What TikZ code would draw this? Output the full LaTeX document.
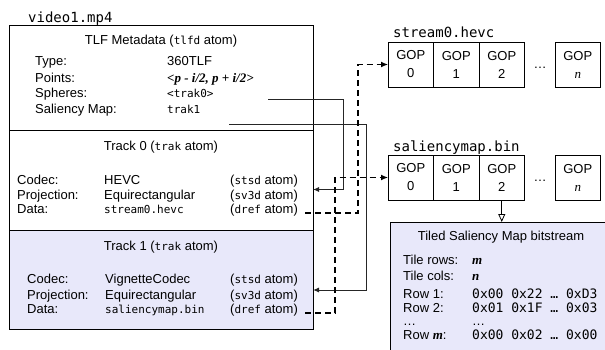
\documentclass[tikz,border=0pt]{standalone}
\usepackage{fontspec}
\setmainfont{Liberation Sans}
\setmonofont{DejaVu Sans Mono}
\newfontfamily\serifface{Liberation Serif}
\usetikzlibrary{arrows.meta}

\definecolor{lavender}{RGB}{232,232,250}
\colorlet{box edge}{black}
\colorlet{wire color}{black!85}
\newcommand\tcode[1]{{\ttfamily\fontsize{11}{13}\selectfont #1}}
\newcommand\hexrow[1]{{\ttfamily\fontsize{13}{15}\selectfont #1}}
\newcommand\bfvar[1]{{\serifface\bfseries\itshape #1}}

\tikzstyle{section} = [draw=box edge, line width=1pt, anchor=north west, minimum width=304pt, inner sep=0pt, outer sep=0pt]
\tikzstyle{txt} = [anchor=base west, inner sep=0pt, font=\fontsize{13}{15}\selectfont]
\tikzstyle{heading} = [txt, anchor=base]
\tikzstyle{filename} = [txt, font=\ttfamily\fontsize{14}{16}\selectfont]
\tikzstyle{gop} = [draw=box edge, line width=0.8pt, anchor=north west, minimum width=45.5pt, minimum height=45pt, inner sep=0pt, outer sep=0pt, align=center, font=\fontsize{13}{18}\selectfont]
\tikzstyle{wire} = [draw=wire color, line width=1pt, -{Latex[length=6pt,width=5pt]}]
\tikzstyle{data link} = [draw, line width=1.2pt, dash pattern=on 6pt off 4pt, -{Latex[length=7pt,width=6pt]}]

\begin{document}
\begin{tikzpicture}[x=1pt, y=-1pt]
    \path[use as bounding box, clip] (0,0) rectangle (605,350);

    % The file and its atoms
    \node[filename] (file) at (28,23) {video1.mp4};
    \node[section, minimum height=105pt] (meta) at (9,26) {};
    \node[section, minimum height=99pt] (track0) at (9,131) {};
    \node[section, minimum height=99pt, fill=lavender] (track1) at (9,230) {};

    \node[heading] (metahead) at (161,44.5) {TLF Metadata (\tcode{tlfd} atom)};
    \node[heading] (head0) at (161,150) {Track 0 (\tcode{trak} atom)};
    \node[heading] (head1) at (161,250) {Track 1 (\tcode{trak} atom)};

    % The metadata
    \foreach \y/\key [count=\i] in {66/Type:, 83/Points:, 97.5/Spheres:, 114/Saliency Map:}
      \node[txt] (metakey\i) at (35,\y) {\key};
    \node[txt] (type) at (167,66) {360TLF};
    \node[txt] (points) at (167,83) {\bfvar{<p - i/2, p + i/2>}};
    \node[txt] (spheres) at (167,97.5) {\tcode{<trak0>}};
    \node[txt] (saliency) at (167,114) {\tcode{trak1}};

    % The two tracks
    \foreach \y/\key/\val/\atom [count=\i] in {184/Codec:/HEVC/stsd, 199.5/Projection:/Equirectangular/sv3d, 213.5/Data:/\tcode{stream0.hevc}/dref} {
      \node[txt] (key0-\i) at (17,\y) {\key};
      \node[txt] (val0-\i) at (104,\y) {\val};
      \node[txt] (atom0-\i) at (230,\y) {(\tcode{\atom} atom)};
    }
    \foreach \y/\key/\val/\atom [count=\i] in {283.5/Codec:/VignetteCodec/stsd, 299.5/Projection:/Equirectangular/sv3d, 313.5/Data:/\tcode{saliencymap.bin}/dref} {
      \node[txt] (key1-\i) at (27,\y) {\key};
      \node[txt] (val1-\i) at (105,\y) {\val};
      \node[txt] (atom1-\i) at (230,\y) {(\tcode{\atom} atom)};
    }

    % The streams
    \node[filename] (stream) at (393,38) {stream0.hevc};
    \node[filename] (salmap) at (393,152) {saliencymap.bin};
    \foreach \x/\n in {388/0, 433.5/1, 479/2} {
      \node[gop] (s\n) at (\x,42) {GOP\\\n};
      \node[gop] (m\n) at (\x,155) {GOP\\\n};
    }
    \node[gop] (sn) at (555,42) {GOP\\{\serifface\itshape n}};
    \node[gop] (mn) at (555,155) {GOP\\{\serifface\itshape n}};
    \node[heading] (dots0) at (540,69) {…};
    \node[heading] (dots1) at (540,182) {…};

    % The saliency map bitstream
    \node[section, minimum width=230pt, minimum height=140pt, fill=lavender] (tiled) at (390,222) {};
    \node[heading] (tiledhead) at (501,240) {Tiled Saliency Map bitstream};
    \foreach \y/\key/\val [count=\i] in {264/Tile rows:/\bfvar{m}, 280/Tile cols:/\bfvar{n}, 298/Row 1:/\hexrow{0x00 0x22 … 0xD3}, 312/Row 2:/\hexrow{0x01 0x1F … 0x03}, 325/…/…, 339/Row \bfvar{m}:/\hexrow{0x00 0x02 … 0x00}} {
      \node[txt] (tkey\i) at (403,\y) {\key};
      \node[txt] (tval\i) at (472,\y) {\val};
    }

    % Where the references point
    \coordinate (sph) at (268,99.5);
    \coordinate (sal) at (229,125);
    \coordinate (proj0) at (313,189.5);
    \coordinate (proj1) at (313,290);
    \coordinate (dref0) at (305,213);
    \coordinate (dref1) at (305,313);

    \path[wire] (sph) -- ++(75,0) |- (proj0);
    \path[wire] (sal) -- ++(137,0) |- (proj1);
    \path[data link] (dref0) -- ++(53,0) |- (s0.west);
    \path[data link] (dref1) -- ++(30,0) |- (m0.west);
    \draw[line width=0.8pt, -{Triangle[open,length=8pt,width=7pt]}] (m2.south) -- (m2.south |- tiled.north);
\end{tikzpicture}
\end{document}
